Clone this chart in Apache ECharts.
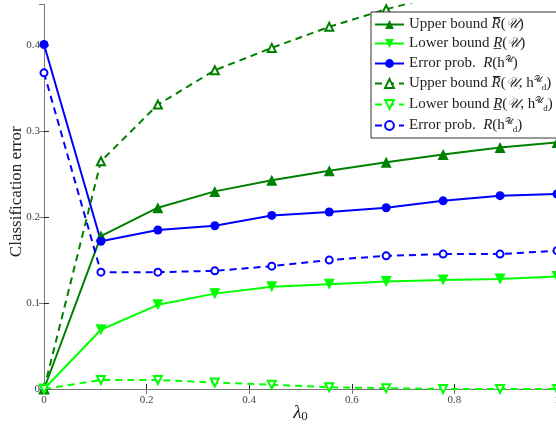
<!DOCTYPE html>
<html><head><meta charset="utf-8">
<script src="https://cdn.jsdelivr.net/npm/echarts@6/dist/echarts.min.js"></script>
<style>html,body{margin:0;padding:0;background:#fff}#c{width:556px;height:429px}</style>
</head><body><div id="c"></div>
<script>
const lambda0 = [0, 0.111, 0.222, 0.333, 0.444, 0.556, 0.667, 0.778, 0.889, 1];
const upperBound = [0, 0.178, 0.211, 0.230, 0.243, 0.254, 0.264, 0.273, 0.281, 0.287];
const lowerBound = [0, 0.069, 0.098, 0.111, 0.119, 0.122, 0.125, 0.127, 0.128, 0.131];
const errorProb = [0.401, 0.172, 0.185, 0.190, 0.202, 0.206, 0.211, 0.219, 0.225, 0.227];
const upperBoundD = [0, 0.265, 0.331, 0.371, 0.397, 0.4215, 0.442, 0.459, 0.474, 0.488];
const lowerBoundD = [0, 0.0105, 0.0105, 0.0075, 0.005, 0.002, 0.001, 0, 0, 0];
const errorProbD = [0.368, 0.136, 0.136, 0.1375, 0.143, 0.150, 0.155, 0.157, 0.157, 0.161];
const xTicks = [0, 0.2, 0.4, 0.6, 0.8, 1];
const yTicks = [0, 0.1, 0.2, 0.3, 0.4];
const seriesNames = ['ub', 'lb', 'ep', 'ubd', 'lbd', 'epd'];
const legendRich = {
  ub: '{t|Upper bound }{ov|R\u0305}{t|(}{cal|𝒰}{t|)}',
  lb: '{t|Lower bound }{ov|R\u0332}{t|(}{cal|𝒰}{t|)}',
  ep: '{t|Error prob.  }{ov|R}{t|(h}{sup|𝒰}{t|)}',
  ubd: '{t|Upper bound }{ov|R\u0305}{t|(}{cal|𝒰}{t|, h}{sup|𝒰}{sub|d}{t|)}',
  lbd: '{t|Lower bound }{ov|R\u0332}{t|(}{cal|𝒰}{t|, h}{sup|𝒰}{sub|d}{t|)}',
  epd: '{t|Error prob.  }{ov|R}{t|(h}{sup|𝒰}{sub|d}{t|)}'
};
const DG = '#008000', LG = '#00ff00', BL = '#0000ff';
const serif = "'Liberation Serif', 'DejaVu Serif', serif";
function mk(name, data, color, symbol, rot, dashed, size) {
  return {
    name: name, type: 'line', data: lambda0.map((x, i) => [x, data[i]]),
    symbol: symbol, symbolSize: size, symbolRotate: rot, showAllSymbol: true,
    lineStyle: { color: color, width: 2, type: dashed ? [7, 5] : 'solid' },
    itemStyle: { color: dashed ? '#fff' : color, borderColor: color, borderWidth: dashed ? 2 : 0 },
    emphasis: { disabled: true }, animation: false, clip: true
  };
}
const chart = echarts.init(document.getElementById('c'), null, { renderer: 'canvas' });
const axisLabelStyle = { fontFamily: serif, fontSize: 11, color: '#444' };
const LH = 17;
chart.setOption({
  backgroundColor: '#fff',
  animation: false,
  grid: { left: 44, right: -1, top: 4.5, bottom: 40, containLabel: false, outerBoundsMode: 'none' },
  xAxis: [{
    type: 'value', min: 0, max: 1, interval: 0.2,
    name: '{a|λ}{s|0}', nameLocation: 'middle', nameGap: 13, nameMoveOverlap: false,
    nameTextStyle: { rich: { a: { fontFamily: serif, fontSize: 19, color: '#222', fontStyle: 'italic' }, s: { fontFamily: serif, fontSize: 13, color: '#222', verticalAlign: 'bottom', padding: [8, 0, 0, 0] } } },
    axisLine: { lineStyle: { color: '#262626', width: 1 } },
    axisTick: { inside: true, length: 5, lineStyle: { color: '#262626' } },
    axisLabel: Object.assign({ margin: 6, formatter: v => xTicks.includes(+v.toFixed(2)) ? String(+v.toFixed(2)) : '' }, axisLabelStyle),
    splitLine: { show: false }
  }, {
    type: 'value', position: 'top', min: 0, max: 1, interval: 0.2,
    axisLine: { lineStyle: { color: '#777' } },
    axisTick: { inside: true, length: 5, lineStyle: { color: '#777' } },
    axisLabel: { show: false }, splitLine: { show: false }
  }],
  yAxis: [{
    type: 'value', min: 0, max: 0.4475, interval: 0.1,
    name: 'Classification error', nameLocation: 'middle', nameGap: 19, nameMoveOverlap: false,
    nameTextStyle: { fontFamily: serif, fontSize: 17, color: '#222', padding: [0, 0, 0, 10] },
    axisLine: { show: true, lineStyle: { color: '#262626' } },
    axisTick: { inside: true, length: 5, lineStyle: { color: '#262626' } },
    axisLabel: Object.assign({ margin: 4, showMaxLabel: false, formatter: v => yTicks.includes(+v.toFixed(2)) ? String(+v.toFixed(2)) : '' }, axisLabelStyle),
    splitLine: { show: false }
  }, {
    type: 'value', position: 'right', min: 0, max: 0.4475, interval: 0.1,
    axisLine: { show: true, lineStyle: { color: '#777' } },
    axisTick: { show: true, inside: true, length: 5, lineStyle: { color: '#777' } },
    axisLabel: { show: false }, splitLine: { show: false }
  }],
  legend: {
    orient: 'vertical', left: 371, top: 12,
    backgroundColor: '#fff', borderColor: '#333', borderWidth: 1,
    padding: [5, 8, 4, 3], itemWidth: 29, itemHeight: 11, itemGap: 4,
    data: seriesNames, selectedMode: false,
    formatter: n => legendRich[n],
    textStyle: {
      rich: {
        t: { fontFamily: serif, fontSize: 15, color: '#222', lineHeight: LH },
        ov: { fontFamily: serif, fontSize: 15, color: '#222', fontStyle: 'italic', lineHeight: LH },
        cal: { fontFamily: serif, fontSize: 14, color: '#222', fontStyle: 'italic', lineHeight: LH },
        sup: { fontFamily: serif, fontSize: 9, color: '#222', verticalAlign: 'top', lineHeight: 10 },
        sub: { fontFamily: serif, fontSize: 9, color: '#222', verticalAlign: 'bottom', lineHeight: 10 }
      }
    }
  },
  series: [
    mk('ub', upperBound, DG, 'triangle', 0, false, 11),
    mk('lb', lowerBound, LG, 'triangle', 180, false, 11),
    mk('ep', errorProb, BL, 'circle', 0, false, 9),
    mk('ubd', upperBoundD, DG, 'triangle', 0, true, 8),
    mk('lbd', lowerBoundD, LG, 'triangle', 180, true, 8),
    mk('epd', errorProbD, BL, 'circle', 0, true, 7)
  ]
});
</script></body></html>
